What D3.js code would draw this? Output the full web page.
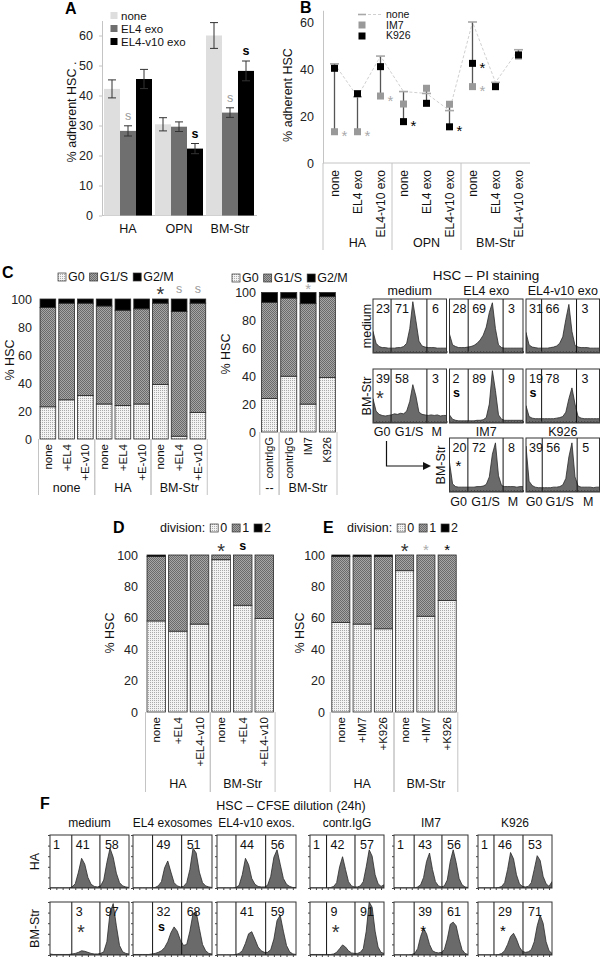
<!DOCTYPE html>
<html><head><meta charset="utf-8">
<script src="https://cdn.jsdelivr.net/npm/d3@7/dist/d3.min.js"></script>
<style>html,body{margin:0;padding:0;background:#fff;}svg{display:block;}</style>
</head><body>
<svg id="fig" width="600" height="958" xmlns="http://www.w3.org/2000/svg"></svg>
<script>
// ================= DATA =================
// Panel A
const aGroups = ["HA", "OPN", "BM-Str"];
const aSeries = ["none", "EL4 exo", "EL4-v10 exo"];
const aNone = [42.2, 30.4, 60.0];
const aEL4 = [28.2, 29.6, 34.3];
const aV10 = [45.5, 22.3, 48.2];
const aNoneErr = [3.0, 2.2, 4.3];
const aEL4Err = [1.7, 1.6, 1.6];
const aV10Err = [3.2, 1.7, 3.3];
const aEL4Sig = ["s", "", "s"];
const aV10Sig = ["", "s", "s"];
const aTicks = [0, 10, 20, 30, 40, 50, 60];

// Panel B
const bGroups = ["HA", "OPN", "BM-Str"];
const bCats = ["none", "EL4 exo", "EL4-v10 exo", "none", "EL4 exo", "EL4-v10 exo", "none", "EL4 exo", "EL4-v10 exo"];
const bNone = [42.2, 28.2, 45.5, 30.4, 29.6, 22.3, 60.0, 34.3, 48.2];
const bIM7 = [13.3, 13.3, 28.5, 25.1, 31.8, 25.0, 32.5, 32.5, 45.5];
const bK926 = [40.3, 29.5, 41.0, 17.6, 25.4, 15.4, 42.4, 32.5, 46.0];
const bIM7Sig = ["*", "*", "*", "", "", "", "*", "", ""];
const bK926Sig = ["", "", "", "*", "", "*", "*", "", ""];
const bTicks = [0, 20, 40, 60];
const bLegend = ["none", "IM7", "K926"];

// Panel C – cell cycle (stacked %)
const cycleLegend = ["G0", "G1/S", "G2/M"];
const cLeftCats = ["none", "+EL4", "+E-v10", "none", "+EL4", "+E-v10", "none", "+EL4", "+E-v10"];
const cLeftGroups = ["none", "HA", "BM-Str"];
const cLeftG0 = [23, 28, 31, 25, 24, 25, 39, 2, 19];
const cLeftG1S = [71, 69, 66, 70, 68, 68, 58, 89, 78];
const cLeftG2M = [6, 3, 3, 5, 8, 7, 3, 9, 3];
const cLeftSig = ["", "", "", "", "", "", "*", "s", "s"];
const cMidCats = ["contrlgG", "contrlgG", "IM7", "K926"];
const cMidGroups = ["--", "BM-Str"];
const cMidG0 = [24, 40, 20, 39];
const cMidG1S = [69, 56, 72, 58];
const cMidG2M = [7, 4, 8, 3];
const cMidSig = ["", "", "*", ""];
const pctTicks = [0, 20, 40, 60, 80, 100];

// Panel C – PI staining histograms
const piCols = ["medium", "EL4 exo", "EL4-v10 exo"];
const piRows = ["medium", "BM-Str"];
const piGateLabels = ["G0", "G1/S", "M"];
const piNums = [[[23, 71, 6], [28, 69, 3], [31, 66, 3]], [[39, 58, 3], [2, 89, 9], [19, 78, 3]]];
const piSig = [["", "", ""], ["*", "s", "s"]];
const piGates = [[5.9, 17.6], [6.1, 17.5], [5.1, 16.5]];
const piHist = [
  [[40,18,12,10,10,9,9,9,10,10,12,18,45,95,60,22,13,11,10,10,10,9,9,9,9],
   [35,15,12,10,10,10,11,12,14,18,24,33,48,75,93,45,15,10,9,9,9,9,9,9,9],
   [38,15,11,10,9,9,9,9,10,11,13,18,30,62,90,40,14,11,10,10,10,9,9,9,9]],
  [[45,22,16,14,13,14,15,17,16,18,17,22,40,71,50,20,16,15,14,15,14,15,13,14,14],
   [15,7,5,4,4,4,4,4,4,5,5,6,10,35,97,60,15,7,5,5,5,5,5,5,5],
   [32,12,9,8,8,8,8,8,8,8,9,10,12,20,45,65,35,12,9,8,8,8,8,8,8]]
];
const piAbCols = ["IM7", "K926"];
const piAbNums = [[20, 72, 8], [39, 56, 5]];
const piAbSig = ["*", ""];
const piAbGates = [[6.0, 17.5], [5.3, 16.7]];
const piAbHist = [
  [55,15,10,9,9,9,9,9,9,10,10,11,14,28,70,91,30,12,10,10,10,10,9,10,10],
  [85,20,12,9,8,8,8,8,8,9,9,10,13,25,65,91,28,11,9,9,9,9,8,9,9]
];

// Panels D / E – division (stacked %)
const divLegend = ["0", "1", "2"];
const dCats = ["none", "+EL4", "+EL4-v10", "none", "+EL4", "+EL4-v10"];
const dGroups = ["HA", "BM-Str"];
const dDiv0 = [58, 51.5, 56, 97, 68, 59.5];
const dDiv1 = [41, 48.5, 44, 3, 32, 40.5];
const dDiv2 = [1, 0, 0, 0, 0, 0];
const dSig = ["", "", "", "*", "s", ""];
const eCats = ["none", "+IM7", "+K926", "none", "+IM7", "+K926"];
const eGroups = ["HA", "BM-Str"];
const eDiv0 = [57, 56, 53, 90, 61, 71];
const eDiv1 = [42, 43, 46, 10, 39, 29];
const eDiv2 = [1, 1, 1, 0, 0, 0];
const eSig = ["", "", "", "*", "*", "*"];

// Panel F – CFSE dilution histograms
const fCols = ["medium", "EL4 exosomes", "EL4-v10 exos.", "contr.IgG", "IM7", "K926"];
const fRows = ["HA", "BM-Str"];
const fNums = [
  [["1", 41, 58], ["", 49, 51], ["", 44, 56], ["1", 42, 57], ["1", 43, 56], ["1", 46, 53]],
  [["", 3, 97], ["", 32, 68], ["", 41, 59], ["", 9, 91], ["", 39, 61], ["", 29, 71]]
];
const fSig = [["", "", "", "", "", ""], ["*", "s", "", "*", "*", "*"]];
const fGates = [[6.9, 15.8], [6.2, 15.4], [6.0, 15.4], [5.6, 15.2], [6.8, 16.2], [5.4, 15.2]];
const fHist = [
  [[0,0,0,0,0,0,0,2,8,30,56,45,20,7,3,2,4,15,48,75,58,28,10,4,2,1],
   [0,0,0,0,0,0,0,1,4,12,38,51,30,10,4,2,3,10,35,75,66,30,10,4,2,1],
   [0,0,0,0,0,0,1,5,25,56,44,18,7,3,2,2,5,22,58,72,45,18,7,3,1,1],
   [0,0,0,0,0,0,0,1,3,10,40,59,35,12,4,2,2,4,12,40,72,60,25,8,3,6],
   [0,0,0,0,0,0,0,0,2,6,20,50,66,35,12,4,2,4,15,50,72,48,18,6,2,1],
   [0,0,0,0,0,0,0,1,3,10,35,67,55,25,8,3,2,3,10,35,61,52,22,8,3,12]],
  [[2,1,1,1,1,1,1,2,3,5,8,7,5,3,2,2,3,6,25,80,97,55,18,6,3,2],
   [1,1,1,1,1,1,2,3,5,8,14,25,42,53,45,28,18,20,45,78,81,50,20,8,3,2],
   [0,0,0,0,0,0,1,3,8,22,40,44,30,15,8,5,5,10,30,65,75,45,18,6,2,1],
   [1,1,1,1,1,1,1,1,2,5,12,19,15,8,4,3,3,5,12,45,100,90,45,15,5,3],
   [0,0,0,0,0,0,1,3,12,35,50,40,20,8,5,4,5,10,30,58,62,55,30,10,3,1],
   [0,0,0,0,0,0,0,1,3,8,20,35,41,30,15,7,5,6,10,25,55,75,60,25,8,3]]
];

// ================= DRAWING =================
const svg = d3.select("#fig");
const FONT = '"Liberation Sans", Arial, Helvetica, sans-serif';
svg.attr("font-family", FONT);
svg.append("rect").attr("width", 600).attr("height", 958).attr("fill", "#fff");
const defs = svg.append("defs");
const pDot = defs.append("pattern").attr("id", "pDot").attr("patternUnits", "userSpaceOnUse").attr("width", 2).attr("height", 2);
pDot.append("rect").attr("width", 2).attr("height", 2).attr("fill", "#f3f3f3");
pDot.append("rect").attr("width", 1).attr("height", 1).attr("fill", "#aaaaaa");
const pChk = defs.append("pattern").attr("id", "pChk").attr("patternUnits", "userSpaceOnUse").attr("width", 2).attr("height", 2);
pChk.append("rect").attr("width", 2).attr("height", 2).attr("fill", "#a6a6a6");
pChk.append("rect").attr("width", 1).attr("height", 1).attr("fill", "#6a6a6a");
pChk.append("rect").attr("x", 1).attr("y", 1).attr("width", 1).attr("height", 1).attr("fill", "#6a6a6a");
const FILLS = ["url(#pDot)", "url(#pChk)", "#000"];
const AXC = "#c4c4c4";

function T(g, x, y, s, o = {}) {
  const t = g.append("text").attr("x", x).attr("y", y).text(s)
    .attr("font-size", o.size || 12).attr("fill", o.fill || "#111")
    .attr("text-anchor", o.anchor || "start");
  if (o.weight) t.attr("font-weight", o.weight);
  if (o.dy) t.attr("dy", o.dy);
  if (o.rot) t.attr("transform", `rotate(${o.rot},${x},${y})`);
  return t;
}
const STAR = {
  big: {size: 20, fill: "#333", off: 11.5},
  small: {size: 15, fill: "#000", off: 8.5},
  light: {size: 15, fill: "#aaa", off: 8.5},
  gray: {size: 15, fill: "#999", off: 8.5}
};
function star(g, x, y, kind) {
  const s = STAR[kind];
  T(g, x, y + s.off, "*", {size: s.size, fill: s.fill, anchor: "middle"});
}
function sMark(g, x, y, kind) {
  const bold = kind === "bold";
  T(g, x, y, "s", {size: 12.5, anchor: "middle", dy: "0.35em", weight: bold ? "bold" : null, fill: bold ? "#000" : "#9a9a9a"});
}
function mark(g, x, y, m, kind) {
  if (!m) return;
  if (m === "*") star(g, x, y, kind); else sMark(g, x, y, kind);
}
function legendRow(g, x, y, items, size) {
  let cx = x;
  items.forEach(it => {
    if (it.fill) {
      g.append("rect").attr("x", cx).attr("y", y - 4).attr("width", 8).attr("height", 8)
        .attr("fill", it.fill).attr("stroke", "#333").attr("stroke-width", 0.7);
      cx += 10;
    }
    const t = T(g, cx, y, it.label, {dy: "0.35em", size: size || 12.5});
    cx += t.node().getComputedTextLength() + 5;
  });
}
function letter(x, y, s) { T(svg, x, y, s, {size: 16, weight: "bold", fill: "#000"}); }

// ---------- Panel A ----------
(function () {
  const g = svg.append("g");
  const x = d3.scaleBand().domain(aGroups).range([102.5, 255.5]).paddingInner(3 / 51).paddingOuter(1.5 / 51);
  const xi = d3.scaleBand().domain(aSeries).range([0, x.bandwidth()]);
  const y = d3.scaleLinear().domain([0, 65]).range([215.5, 20.5]);
  const vals = [aNone, aEL4, aV10], errs = [aNoneErr, aEL4Err, aV10Err];
  const cols = ["#dedede", "#6f6f6f", "#000"];
  const ax = g.append("g").attr("transform", "translate(102,0)")
    .call(d3.axisLeft(y).tickValues(aTicks).tickSize(3).tickSizeOuter(0).tickPadding(6));
  ax.select(".domain").attr("stroke", AXC);
  ax.selectAll(".tick line").attr("stroke", AXC);
  ax.selectAll("text").attr("font-size", 12.5).attr("font-family", FONT).attr("fill", "#222");
  g.append("line").attr("x1", 102).attr("x2", 257).attr("y1", y(0)).attr("y2", y(0)).attr("stroke", AXC);
  aGroups.forEach((gr, i) => {
    aSeries.forEach((s, j) => {
      const v = vals[j][i], e = errs[j][i];
      const bx = x(gr) + xi(s), cx = bx + xi.bandwidth() / 2;
      g.append("rect").attr("x", bx).attr("y", y(v)).attr("width", xi.bandwidth()).attr("height", y(0) - y(v)).attr("fill", cols[j]);
      g.append("line").attr("x1", cx).attr("x2", cx).attr("y1", y(v - e)).attr("y2", y(v + e)).attr("stroke", "#333");
      [v - e, v + e].forEach(w => g.append("line").attr("x1", cx - 4).attr("x2", cx + 4).attr("y1", y(w)).attr("y2", y(w)).attr("stroke", "#333"));
    });
    const cE = x(gr) + xi("EL4 exo") + xi.bandwidth() / 2;
    const cV = x(gr) + xi("EL4-v10 exo") + xi.bandwidth() / 2;
    mark(g, cE, y(aEL4[i] + aEL4Err[i]) - 10, aEL4Sig[i], "gray");
    mark(g, cV, y(aV10[i] + aV10Err[i]) - 10, aV10Sig[i], "bold");
    T(g, x(gr) + x.bandwidth() / 2, 229, gr, {anchor: "middle", dy: "0.35em", size: 12.5});
  });
  aSeries.forEach((s, j) => {
    const ly = [15.5, 28.5, 41.5][j];
    g.append("rect").attr("x", 110.5).attr("y", ly - 3.5).attr("width", 7).attr("height", 7).attr("fill", cols[j]);
    T(g, 121, ly, s, {dy: "0.35em", size: 11.5});
  });
  T(g, 72, 112, "% adherent HSC  .", {rot: -90, anchor: "middle", dy: "0.35em", size: 12.5});
  letter(65, 14, "A");
})();

// ---------- Panel B ----------
(function () {
  const g = svg.append("g");
  const x = d3.scaleBand().domain(d3.range(bCats.length)).range([323, 530]);
  const cx = i => x(i) + x.bandwidth() / 2;
  const y = d3.scaleLinear().domain([0, 65]).range([163, 10.25]);
  const ax = g.append("g").attr("transform", "translate(323,0)")
    .call(d3.axisLeft(y).tickValues(bTicks).tickSize(0).tickSizeOuter(0).tickPadding(9));
  ax.select(".domain").attr("stroke", AXC);
  ax.selectAll("text").attr("font-size", 12.5).attr("font-family", FONT).attr("fill", "#222");
  g.append("line").attr("x1", 323).attr("x2", 323).attr("y1", 163).attr("y2", 250).attr("stroke", AXC);
  g.append("line").attr("x1", 323).attr("x2", 530).attr("y1", y(0)).attr("y2", y(0)).attr("stroke", AXC);
  [3, 6].forEach(k => g.append("line").attr("x1", x(k)).attr("x2", x(k)).attr("y1", 163).attr("y2", 250).attr("stroke", AXC));
  g.append("path").datum(bNone).attr("d", d3.line().x((d, i) => cx(i)).y(d => y(d)))
    .attr("fill", "none").attr("stroke", "#d0d0d0").attr("stroke-dasharray", "3,2");
  bCats.forEach((c, i) => {
    const vs = [bNone[i], bIM7[i], bK926[i]];
    g.append("line").attr("x1", cx(i)).attr("x2", cx(i)).attr("y1", y(d3.max(vs))).attr("y2", y(d3.min(vs)))
      .attr("stroke", "#555").attr("stroke-width", 1.3);
  });
  bNone.forEach((v, i) => g.append("line").attr("x1", cx(i) - 4.5).attr("x2", cx(i) + 4.5).attr("y1", y(v)).attr("y2", y(v)).attr("stroke", "#a8a8a8").attr("stroke-width", 1.6));
  bIM7.forEach((v, i) => g.append("rect").attr("x", cx(i) - 3.5).attr("y", y(v) - 3.5).attr("width", 7).attr("height", 7).attr("fill", "#999"));
  bK926.forEach((v, i) => g.append("rect").attr("x", cx(i) - 3.5).attr("y", y(v) - 3.5).attr("width", 7).attr("height", 7).attr("fill", "#000"));
  bIM7Sig.forEach((m, i) => mark(g, cx(i) + 10, y(bIM7[i]) + 1, m, "light"));
  bK926Sig.forEach((m, i) => mark(g, cx(i) + 10, y(bK926[i]) + 1, m, "small"));
  bCats.forEach((c, i) => T(g, cx(i) + 4.5, 170, c, {rot: -90, anchor: "end", size: 12}));
  bGroups.forEach((gr, j) => T(g, (cx(3 * j) + cx(3 * j + 2)) / 2, 243, gr, {anchor: "middle", dy: "0.35em", size: 12.5}));
  g.append("line").attr("x1", 358).attr("x2", 366).attr("y1", 14.5).attr("y2", 14.5).attr("stroke", "#a8a8a8").attr("stroke-width", 1.6);
  g.append("line").attr("x1", 368).attr("x2", 382).attr("y1", 14.5).attr("y2", 14.5).attr("stroke", "#d0d0d0").attr("stroke-dasharray", "3,2");
  g.append("rect").attr("x", 358.5).attr("y", 21.5).attr("width", 7).attr("height", 7).attr("fill", "#999");
  g.append("rect").attr("x", 358.5).attr("y", 32.5).attr("width", 7).attr("height", 7).attr("fill", "#000");
  bLegend.forEach((s, j) => T(g, 386, [14.5, 25, 35.5][j], s, {dy: "0.35em", size: 10.5}));
  T(g, 288, 95, "% adherent HSC", {rot: -90, anchor: "middle", dy: "0.35em", size: 12.5});
  letter(300, 13, "B");
})();

// ---------- stacked bar helper ----------
function stacked(c) {
  const g = svg.append("g");
  const n = c.cats.length;
  const x = d3.scaleBand().domain(d3.range(n)).range(c.xr).paddingInner(c.pi).paddingOuter(c.pi / 2);
  const y = d3.scaleLinear().domain([0, 100]).range(c.yr);
  const bw = x.bandwidth();
  d3.range(n).forEach(i => {
    let acc = 0;
    c.series.forEach((s, k) => {
      const v = s[i];
      if (v > 0) {
        g.append("rect").attr("x", x(i)).attr("width", bw)
          .attr("y", y(acc + v)).attr("height", y(acc) - y(acc + v))
          .attr("fill", FILLS[k]).attr("stroke", "#2a2a2a").attr("stroke-width", 0.8);
      }
      acc += v;
    });
  });
  const ax = g.append("g").attr("transform", `translate(${c.axX},0)`)
    .call(d3.axisLeft(y).tickValues(pctTicks).tickSize(0).tickPadding(0));
  ax.select(".domain").remove();
  ax.selectAll("text").attr("font-size", 12.5).attr("font-family", FONT).attr("fill", "#222");
  T(g, c.ylab[0], c.ylab[1], "% HSC", {rot: -90, anchor: "middle", dy: "0.35em", size: 12.5});
  d3.range(n).forEach(i => T(g, x(i) + bw / 2 + 4, y(0) + 5, c.cats[i], {rot: -90, anchor: "end", size: c.catSize || 11.5}));
  const x0 = c.xr[0], st = x.step();
  c.spans.forEach((sp, j) => {
    sp.forEach(b => g.append("line").attr("x1", x0 + b * st).attr("x2", x0 + b * st).attr("y1", y(0)).attr("y2", c.sepEnd).attr("stroke", AXC));
    T(g, x0 + (sp[0] + sp[1]) / 2 * st, c.grpY, c.groups[j], {anchor: "middle", dy: "0.35em", size: 12.5});
  });
  c.sig.forEach((m, i) => mark(g, x(i) + bw / 2, c.markY, m, c.sigKind[i]));
  legendRow(g, c.leg[0], c.leg[1], c.legItems);
  return g;
}

// ---------- Panel C (bars) ----------
stacked({
  cats: cLeftCats, groups: cLeftGroups, series: [cLeftG0, cLeftG1S, cLeftG2M],
  xr: [38.5, 207.25], pi: 0.163, yr: [439, 299], axX: 32, ylab: [10, 360],
  spans: [[0, 3], [3, 6], [6, 9]], sepEnd: 495, grpY: 488, markY: 289,
  sig: cLeftSig, sigKind: ["", "", "", "", "", "", "big", "gray", "gray"],
  leg: [58, 277], legItems: cycleLegend.map((l, k) => ({label: l, fill: FILLS[k]}))
});
stacked({
  cats: cMidCats, groups: cMidGroups, series: [cMidG0, cMidG1S, cMidG2M], catSize: 11,
  xr: [259.8, 337], pi: 0.17, yr: [432, 292.5], axX: 256, ylab: [226, 354],
  spans: [[0, 1], [1, 4]], sepEnd: 495, grpY: 488, markY: 285,
  sig: cMidSig, sigKind: ["", "", "light", ""],
  leg: [232, 278], legItems: cycleLegend.map((l, k) => ({label: l, fill: FILLS[k]}))
});
letter(2, 278, "C");

// ---------- flow histogram helper ----------
let clipN = 0;
function flowBox(g, bx, by, bw, bh, hist, gates, nums, o) {
  const xs = d3.scaleLinear().domain([0, hist.length - 1]).range([bx, bx + bw]);
  const ys = d3.scaleLinear().domain([0, 100]).range([by + bh, by]);
  const id = "clip" + (clipN++);
  defs.append("clipPath").attr("id", id).append("rect").attr("x", bx).attr("y", by).attr("width", bw).attr("height", bh);
  const area = d3.area().x((d, i) => xs(i)).y0(ys(0)).y1(d => ys(d));
  g.append("path").datum(hist).attr("d", area).attr("fill", "#6a6a6a")
    .attr("stroke", "#2a2a2a").attr("stroke-width", 0.8).attr("clip-path", `url(#${id})`);
  gates.forEach(v => g.append("line").attr("x1", xs(v)).attr("x2", xs(v)).attr("y1", by).attr("y2", by + bh).attr("stroke", "#111"));
  g.append("rect").attr("x", bx).attr("y", by).attr("width", bw).attr("height", bh)
    .attr("fill", "none").attr("stroke", "#333");
  const bt = g.append("g").attr("transform", `translate(0,${by + bh})`)
    .call(d3.axisBottom(xs).ticks(o.nTicks).tickSize(o.tick).tickFormat(""));
  bt.select(".domain").remove(); bt.selectAll("line").attr("stroke", "#444");
  if (o.left) {
    const lt = g.append("g").attr("transform", `translate(${bx},0)`)
      .call(d3.axisLeft(ys).ticks(5).tickSize(2).tickFormat(""));
    lt.select(".domain").remove(); lt.selectAll("line").attr("stroke", "#444");
  }
  const nx = [bx + 3, xs(gates[0]) + 4, xs(gates[1]) + 5];
  nums.forEach((v, k) => { if (v !== "" && v !== null) T(g, nx[k], by + 13.5, String(v), {size: 12.5}); });
  return {xs, nx};
}

// ---------- Panel C (PI staining) ----------
(function () {
  const g = svg.append("g");
  const colX = [373, 449.5, 526], bw = 73.5, rowY = [299, 369], bh = 54, row3Y = 438;
  T(g, 486, 275, "HSC \u2013 PI staining", {anchor: "middle", dy: "0.35em", size: 13.5});
  piCols.forEach((c, j) => T(g, colX[j] + bw / 2, 291, c, {anchor: "middle", dy: "0.35em", size: 12.5}));
  piRows.forEach((r, i) => {
    T(g, 367, rowY[i] + bh / 2, r, {rot: -90, anchor: "middle", dy: "0.35em", size: 12.5});
    piCols.forEach((c, j) => {
      const b = flowBox(g, colX[j], rowY[i], bw, bh, piHist[i][j], piGates[j], piNums[i][j], {nTicks: 20, tick: -2});
      mark(g, b.nx[0] + 4, rowY[i] + 24, piSig[i][j], piSig[i][j] === "*" ? "big" : "bold");
    });
  });
  const gl = (bx, gts, yy) => {
    const xs = d3.scaleLinear().domain([0, 24]).range([bx, bx + bw]);
    const edges = [0, gts[0], gts[1], 24];
    piGateLabels.forEach((l, k) => T(g, xs((edges[k] + edges[k + 1]) / 2), yy, l, {anchor: "middle", dy: "0.35em", size: 12.5}));
  };
  gl(colX[0], piGates[0], 432);
  piAbCols.forEach((c, j) => {
    const bx = colX[j + 1];
    T(g, bx + bw / 2, 432, c, {anchor: "middle", dy: "0.35em", size: 12.5});
    const b = flowBox(g, bx, row3Y, bw, bh, piAbHist[j], piAbGates[j], piAbNums[j], {nTicks: 20, tick: -2});
    mark(g, b.nx[0] + 6, row3Y + 24, piAbSig[j], "small");
    gl(bx, piAbGates[j], 502);
  });
  T(g, 441, row3Y + bh / 2, "BM-Str", {rot: -90, anchor: "middle", dy: "0.35em", size: 12.5});
  g.append("path").attr("d", "M386.5,441 V466 H424").attr("fill", "none").attr("stroke", "#111").attr("stroke-width", 1.2);
  g.append("path").attr("d", "M423,462 L431,466 L423,470 Z").attr("fill", "#111");
})();

// ---------- Panels D and E ----------
const divItems = [{label: "division:"}].concat(divLegend.map((l, k) => ({label: l, fill: FILLS[k]})));
stacked({
  cats: dCats, groups: dGroups, series: [dDiv0, dDiv1, dDiv2],
  xr: [145.5, 275.1], pi: 0.14, yr: [712, 555], axX: 138, ylab: [110, 633],
  spans: [[0, 3], [3, 6]], sepEnd: 792, grpY: 784, markY: 546,
  sig: dSig, sigKind: ["", "", "", "big", "bold", ""],
  leg: [160, 528], legItems: divItems
});
letter(113, 533, "D");
stacked({
  cats: eCats, groups: eGroups, series: [eDiv0, eDiv1, eDiv2],
  xr: [330.2, 457.8], pi: 0.15, yr: [712, 555], axX: 325, ylab: [300, 633],
  spans: [[0, 3], [3, 6]], sepEnd: 792, grpY: 784, markY: 546,
  sig: eSig, sigKind: ["", "", "", "big", "light", "small"],
  leg: [347, 528], legItems: divItems
});
letter(323, 533, "E");

// ---------- Panel F ----------
(function () {
  const g = svg.append("g");
  const colX = [50, 133, 217, 310, 394, 478], colW = [79, 79, 79, 74, 74, 74];
  const rowY = [835, 902], bh = 53;
  T(g, 291, 806, "HSC \u2013 CFSE dilution (24h)", {anchor: "middle", dy: "0.35em", size: 12.5});
  fCols.forEach((c, j) => T(g, colX[j] + colW[j] / 2, 823, c, {anchor: "middle", dy: "0.35em", size: 12}));
  fRows.forEach((r, i) => {
    T(g, 35, rowY[i] + bh / 2, r, {rot: -90, anchor: "middle", dy: "0.35em", size: 12.5});
    fCols.forEach((c, j) => {
      const b = flowBox(g, colX[j], rowY[i], colW[j], bh, fHist[i][j], fGates[j], fNums[i][j], {nTicks: 12, tick: 2, left: true});
      const m = fSig[i][j];
      mark(g, b.nx[1] + 5, rowY[i] + 25, m, m === "s" ? "bold" : (j === 0 || j === 3 ? "big" : "small"));
    });
  });
  letter(40, 809, "F");
})();
</script></body></html>
